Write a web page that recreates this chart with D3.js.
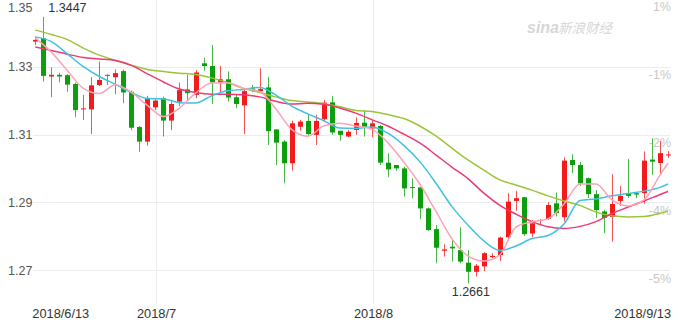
<!DOCTYPE html>
<html>
<head>
<meta charset="utf-8">
<script src="https://cdn.jsdelivr.net/npm/d3@7"></script>
<style>
  body { margin: 0; background: #fff; }
  text { font-family: Arial, "Liberation Sans", sans-serif; }
</style>
</head>
<body>
<div id="chart"></div>
<script>
// trading days (Mon-Sat), 2018
var dates = [
  "6/13","6/14","6/15","6/16","6/18","6/19","6/20","6/21","6/22","6/23","6/25","6/26","6/27","6/28","6/29","6/30",
  "7/2","7/3","7/4","7/5","7/6","7/7","7/9","7/10","7/11","7/12","7/13","7/14","7/16","7/17","7/18","7/19","7/20","7/21",
  "7/23","7/24","7/25","7/26","7/27","7/28","7/30","7/31",
  "8/1","8/2","8/3","8/4","8/6","8/7","8/8","8/9","8/10","8/11","8/13","8/14","8/15","8/16","8/17","8/18",
  "8/20","8/21","8/22","8/23","8/24","8/25","8/27","8/28","8/29","8/30","8/31",
  "9/1","9/3","9/4","9/5","9/6","9/7","9/8","9/10","9/11","9/12","9/13"
];

var open = [1.3374,1.3384,1.3271,1.3276,1.3275,1.3249,1.3174,1.3174,1.3246,1.3276,1.3269,1.3287,1.3226,1.3122,1.3079,1.3180,
  1.3207,1.3141,1.3197,1.3233,1.3217,1.3310,1.3302,1.3253,1.3263,1.3210,1.3186,1.3236,1.3228,1.3239,1.3115,1.3079,1.3015,1.3123,
  1.3140,1.3099,1.3145,1.3195,1.3111,1.3094,1.3113,1.3135,
  1.3118,1.3125,1.3017,1.3010,1.3000,1.2945,1.2944,1.2882,1.2821,1.2757,1.2769,1.2759,1.2722,1.2695,1.2711,1.2738,
  1.2744,1.2797,1.2904,1.2915,1.2808,1.2845,1.2851,1.2897,1.2856,1.3025,1.3010,
  1.2971,1.2924,1.2873,1.2857,1.2904,1.2926,1.2927,1.2927,1.3026,1.3016,1.3038];
var high = [1.3389,1.3447,1.3298,1.3282,1.3278,1.3253,1.3217,1.3269,1.3315,1.3277,1.3292,1.3292,1.3230,1.3125,1.3214,1.3204,
  1.3212,1.3197,1.3253,1.3276,1.3290,1.3327,1.3364,1.3302,1.3286,1.3217,1.3237,1.3246,1.3295,1.3270,1.3115,1.3084,1.3141,1.3143,
  1.3158,1.3158,1.3202,1.3214,1.3111,1.3113,1.3151,1.3172,
  1.3143,1.3128,1.3045,1.3010,1.3005,1.2971,1.2944,1.2885,1.2833,1.2776,1.2789,1.2826,1.2759,1.2718,1.2753,1.2750,
  1.2799,1.2927,1.2934,1.2916,1.2848,1.2851,1.2900,1.2929,1.3033,1.3042,1.3019,
  1.2973,1.2936,1.2877,1.2983,1.2948,1.3028,1.2931,1.3050,1.3089,1.3081,1.3051];
var low = [1.3364,1.3256,1.3210,1.3254,1.3226,1.3151,1.3143,1.3101,1.3243,1.3246,1.3219,1.3192,1.3113,1.3049,1.3067,1.3172,
  1.3094,1.3113,1.3184,1.3202,1.3207,1.3288,1.3190,1.3222,1.3197,1.3177,1.3101,1.3225,1.3225,1.3069,1.3010,1.2956,1.2993,1.3111,
  1.3096,1.3069,1.3138,1.3099,1.3082,1.3092,1.3099,1.3094,
  1.3092,1.3010,1.2974,1.2993,1.2917,1.2912,1.2850,1.2816,1.2720,1.2740,1.2725,1.2720,1.2661,1.2681,1.2697,1.2735,
  1.2727,1.2791,1.2875,1.2801,1.2797,1.2836,1.2848,1.2858,1.2843,1.2986,1.2948,
  1.2913,1.2854,1.2809,1.2784,1.2889,1.2913,1.2912,1.2896,1.2981,1.2981,1.3031];
var close = [1.3379,1.3273,1.3276,1.3271,1.3247,1.3172,1.3177,1.3245,1.3261,1.3273,1.3281,1.3224,1.3120,1.3079,1.3205,1.3200,
  1.3141,1.3190,1.3231,1.3222,1.3283,1.3302,1.3254,1.3263,1.3209,1.3190,1.3228,1.3229,1.3234,1.3110,1.3076,1.3015,1.3133,1.3138,
  1.3101,1.3140,1.3194,1.3106,1.3099,1.3108,1.3134,1.3123,
  1.3133,1.3017,1.2997,1.3000,1.2941,1.2942,1.2882,1.2818,1.2766,1.2761,1.2764,1.2725,1.2695,1.2713,1.2750,1.2742,
  1.2796,1.2902,1.2912,1.2806,1.2838,1.2848,1.2892,1.2868,1.3023,1.3010,1.2956,
  1.2924,1.2877,1.2854,1.2895,1.2919,1.2919,1.2923,1.3023,1.3020,1.3045,1.3041];

// moving averages, read every second trading day (plus the last one)
var ma5 = [1.3385,1.3343,1.3289,1.3236,1.3221,1.3247,1.3224,1.3186,1.3153,1.3178,1.3222,1.3252,1.3253,1.3236,1.3227,1.3177,
  1.3115,1.3095,1.3125,1.3133,1.3125,1.3116,1.3076,1.3019,1.2954,1.2874,1.2793,1.2742,1.2727,1.2745,1.2827,1.2842,
  1.2851,1.2895,1.2954,1.2954,1.2907,1.2889,1.2907,1.2981,1.3016];
var ma10 = [1.3388,1.3374,1.3338,1.3300,1.3271,1.3248,1.3224,1.3206,1.3205,1.3194,1.3193,1.3214,1.3229,1.3233,1.3239,1.3217,
  1.3184,1.3161,1.3141,1.3119,1.3118,1.3122,1.3104,1.3068,1.3020,1.2957,1.2888,1.2833,1.2786,1.2758,1.2771,1.2793,
  1.2802,1.2836,1.2905,1.2910,1.2919,1.2926,1.2933,1.2944,1.2954];
var ma20 = [1.3358,1.3348,1.3337,1.3327,1.3323,1.3318,1.3304,1.3279,1.3255,1.3234,1.3224,1.3219,1.3219,1.3217,1.3211,1.3198,
  1.3190,1.3192,1.3189,1.3178,1.3163,1.3144,1.3125,1.3101,1.3075,1.3040,1.3004,1.2970,1.2927,1.2891,1.2865,1.2843,
  1.2828,1.2823,1.2829,1.2843,1.2867,1.2886,1.2904,1.2923,1.2932];
var ma30 = [1.3408,1.3395,1.3380,1.3355,1.3334,1.3319,1.3304,1.3292,1.3286,1.3281,1.3277,1.3267,1.3253,1.3236,1.3224,1.3211,
  1.3200,1.3196,1.3191,1.3182,1.3171,1.3168,1.3159,1.3147,1.3125,1.3096,1.3060,1.3025,1.2995,1.2966,1.2951,1.2936,
  1.2919,1.2904,1.2891,1.2871,1.2860,1.2857,1.2858,1.2868,1.2874];

var yTicks = [1.35, 1.33, 1.31, 1.29, 1.27];
var pctLabels = ["1%", "-1%", "-2%", "-4%", "-5%"];
var monthTickDates = ["6/30", "8/1"];
var monthTickLabels = ["2018/7", "2018/8"];
var firstLabel = "2018/6/13", lastLabel = "2018/9/13";

var width = 680, height = 320;
var upColor = "#f31b1b", downColor = "#0c9e0c";
var maColors = ["#fba4b6", "#3fc2e2", "#ec3a72", "#9cc43a"];

var svg = d3.select("#chart").append("svg")
  .attr("width", width).attr("height", height);

var x = d3.scalePoint().domain(dates).range([35.3, 668.1]);
var y = d3.scaleLinear().domain([1.26, 1.35]).range([304, -1.1]);

// horizontal grid
svg.append("g").selectAll("line").data(yTicks).enter().append("line")
  .attr("x1", 33).attr("x2", 670)
  .attr("y1", function (d) { return Math.round(y(d)) + 0.5; })
  .attr("y2", function (d) { return Math.round(y(d)) + 0.5; })
  .attr("stroke", "#ececec").attr("stroke-width", 1);

// vertical month grid
svg.append("g").selectAll("line").data(monthTickDates).enter().append("line")
  .attr("x1", function (d) { return Math.round(x(d)) + 1.5; })
  .attr("x2", function (d) { return Math.round(x(d)) + 1.5; })
  .attr("y1", 0).attr("y2", 304)
  .attr("stroke", "#ececec").attr("stroke-width", 1);

// watermark
var wm = svg.append("g").attr("fill", "#d6d6d6");
wm.append("text").attr("x", 527).attr("y", 33)
  .style("font-size", "16px").style("font-weight", "bold").style("font-style", "italic")
  .text("sina");
wm.append("text").attr("x", 558).attr("y", 33)
  .style("font-size", "13.5px").style("font-style", "italic")
  .style("font-family", "'Noto Sans CJK SC', sans-serif")
  .text("新浪财经");

// left price labels
svg.append("g").selectAll("text").data(yTicks).enter().append("text")
  .attr("x", 8)
  .attr("y", function (d) { return Math.max(y(d), 7) + 4.5; })
  .attr("fill", "#555").style("font-size", "12.5px")
  .text(function (d) { return d.toFixed(2); });

// right percent labels
svg.append("g").selectAll("text").data(yTicks).enter().append("text")
  .attr("x", 671).attr("text-anchor", "end")
  .attr("y", function (d) { return y(d) + 12.5; })
  .attr("fill", "#c8c8c8").style("font-size", "12.5px")
  .text(function (d, i) { return pctLabels[i]; });

// date labels
var xl = svg.append("g").attr("fill", "#333").style("font-size", "12.8px");
xl.append("text").attr("x", x(dates[0]) - 3).attr("y", 318).text(firstLabel);
xl.append("text").attr("x", x(dates[dates.length - 1]) + 3).attr("y", 318)
  .attr("text-anchor", "end").text(lastLabel);
xl.selectAll(".m").data(monthTickDates).enter().append("text")
  .attr("class", "m")
  .attr("x", function (d) { return Math.round(x(d)) + 1.5; })
  .attr("y", 318).attr("text-anchor", "middle")
  .text(function (d, i) { return monthTickLabels[i]; });

// candles
var candles = svg.append("g").selectAll("g").data(dates).enter().append("g");
function col(i) { return close[i] >= open[i] ? upColor : downColor; }
candles.append("line")
  .attr("x1", function (d) { return Math.round(x(d)) + 0.5; })
  .attr("x2", function (d) { return Math.round(x(d)) + 0.5; })
  .attr("y1", function (d, i) { return y(high[i]); })
  .attr("y2", function (d, i) { return y(low[i]); })
  .attr("stroke", function (d, i) { return col(i); })
  .attr("stroke-opacity", 0.75);
candles.append("rect")
  .attr("x", function (d) { return Math.round(x(d)) - 2; })
  .attr("width", 5)
  .attr("y", function (d, i) { return y(Math.max(open[i], close[i])); })
  .attr("height", function (d, i) { return Math.max(1, Math.abs(y(open[i]) - y(close[i]))); })
  .attr("fill", function (d, i) { return col(i); });

// moving average lines
var maDates = dates.filter(function (d, i) { return i % 2 === 0 || i === dates.length - 1; });
var line = d3.line()
  .x(function (d, i) { return x(maDates[i]); })
  .y(function (d) { return y(d); })
  .curve(d3.curveMonotoneX);
[ma30, ma20, ma10, ma5].forEach(function (s, k) {
  svg.append("path").datum(s)
    .attr("d", line)
    .attr("fill", "none")
    .attr("stroke", maColors[3 - k])
    .attr("stroke-width", 1.5);
});

// extremes
var hiIdx = d3.maxIndex(high), loIdx = d3.minIndex(low);
svg.append("text").attr("x", x(dates[hiIdx]) + 5).attr("y", y(high[hiIdx]) - 4.5)
  .attr("fill", "#333").style("font-size", "12.5px").text(high[hiIdx].toFixed(4));
svg.append("text").attr("x", x(dates[loIdx]) + 3).attr("y", y(low[loIdx]) + 13)
  .attr("text-anchor", "middle")
  .attr("fill", "#333").style("font-size", "12.5px").text(low[loIdx].toFixed(4));
</script>
</body>
</html>
